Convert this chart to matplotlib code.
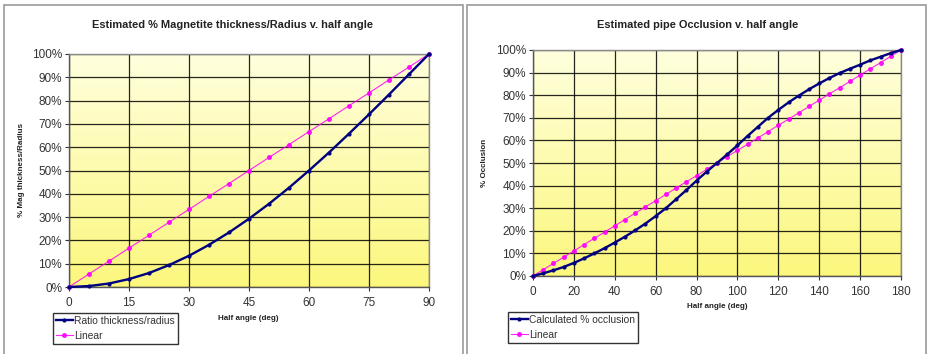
import numpy as np
import matplotlib
matplotlib.use("Agg")
import matplotlib.pyplot as plt
from matplotlib.patches import Rectangle
from matplotlib.ticker import FuncFormatter

plt.rcParams['font.family'] = ['Liberation Sans', 'DejaVu Sans']

# ---------------- data ----------------
angle_left = [0, 5, 10, 15, 20, 25, 30, 35, 40, 45, 50, 55, 60, 65, 70, 75, 80, 85, 90]
ratio_thickness = [0, 0.4, 1.5, 3.4, 6.0, 9.4, 13.4, 18.1, 23.4, 29.3, 35.7, 42.6,
                   50.0, 57.7, 65.8, 74.1, 82.6, 91.3, 100]
linear_left = [0, 5.6, 11.1, 16.7, 22.2, 27.8, 33.3, 38.9, 44.4, 50.0, 55.6, 61.1,
               66.7, 72.2, 77.8, 83.3, 88.9, 94.4, 100]

angle_right = [0, 5, 10, 15, 20, 25, 30, 35, 40, 45, 50, 55, 60, 65, 70, 75, 80, 85, 90,
               95, 100, 105, 110, 115, 120, 125, 130, 135, 140, 145, 150, 155, 160, 165,
               170, 175, 180]
occlusion = [0, 1.2, 2.5, 4.0, 5.8, 7.8, 10.0, 12.3, 14.8, 17.4, 20.2, 23.2, 26.5,
             30.0, 34.0, 38.0, 42.2, 46.2, 50.0, 53.8, 57.8, 62.0, 66.0, 70.0, 73.5,
             76.8, 79.8, 82.6, 85.2, 87.6, 89.8, 91.7, 93.5, 95.4, 97.0, 98.6, 100]
linear_right = [0, 2.8, 5.6, 8.3, 11.1, 13.9, 16.7, 19.4, 22.2, 25.0, 27.8, 30.6, 33.3,
                36.1, 38.9, 41.7, 44.4, 47.2, 50.0, 52.8, 55.6, 58.3, 61.1, 63.9, 66.7,
                69.4, 72.2, 75.0, 77.8, 80.6, 83.3, 86.1, 88.9, 91.7, 94.4, 97.2, 100]

xticks_left = [0, 15, 30, 45, 60, 75, 90]
xticks_right = [0, 20, 40, 60, 80, 100, 120, 140, 160, 180]
yticks = [0, 10, 20, 30, 40, 50, 60, 70, 80, 90, 100]

W, H = 929, 354
fig = plt.figure(figsize=(W / 100, H / 100), dpi=100)

def fx(px):
    return px / W

def fy(py):
    return 1 - py / H

# panel borders
for x0, x1 in [(4, 463), (467, 926)]:
    fig.patches.append(Rectangle((fx(x0), -0.02), fx(x1 - x0), fy(5) + 0.02,
                                 transform=fig.transFigure, fill=False,
                                 edgecolor='#9a9a9a', lw=1.2))

top_col = np.array([255, 255, 222]) / 255
bot_col = np.array([252, 247, 125]) / 255
grad = np.linspace(0, 1, 256)[:, None]
grad_img = top_col[None, None, :] * (1 - grad[:, :, None]) + bot_col[None, None, :] * grad[:, :, None]
grad_img = np.repeat(grad_img, 4, axis=1)


def make_ax(rect, xs, s1, s2, xmax, xt):
    ax = fig.add_axes(rect)
    ax.imshow(grad_img, extent=[0, xmax, 0, 100], aspect='auto', zorder=0,
              interpolation='bilinear')
    ax.set_xlim(0, xmax)
    ax.set_ylim(0, 100)
    ax.set_xticks(xt)
    ax.set_yticks(yticks)
    ax.yaxis.set_major_formatter(FuncFormatter(lambda v, p: f"{int(v)}%"))
    ax.grid(True, color='black', lw=0.9, alpha=0.85, zorder=1)
    ax.set_axisbelow(True)
    for sp in ax.spines.values():
        sp.set_color('#8a8a8a')
        sp.set_linewidth(1.0)
    ax.spines['left'].set_color('#555555')
    ax.spines['bottom'].set_color('#555555')
    ax.tick_params(axis='both', labelsize=8.5, colors='#333333', length=3,
                   width=0.8, labelcolor='#333333')
    ax.tick_params(axis='x', pad=4)
    ax.tick_params(axis='y', pad=2)
    l1, = ax.plot(xs, s1, color='#000080', lw=1.7, marker='o', ms=2.0,
                  zorder=4, clip_on=False)
    l2, = ax.plot(xs, s2, color='#FF00FF', lw=0.8, marker='o', ms=2.6,
                  zorder=3, clip_on=False, alpha=0.85)
    return ax, l1, l2


axL, a1, a2 = make_ax([fx(69), fy(287), fx(429 - 69), (287 - 54) / H],
                      angle_left, ratio_thickness, linear_left, 90, xticks_left)
axR, b1, b2 = make_ax([fx(533), fy(276), fx(901 - 533), (276 - 50) / H],
                      angle_right, occlusion, linear_right, 180, xticks_right)

fig.text(fx(233), fy(25), 'Estimated % Magnetite thickness/Radius v. half angle',
         ha='center', va='center', fontsize=7.9, fontweight='bold', color='#222222')
fig.text(fx(698), fy(25), 'Estimated pipe Occlusion v. half angle',
         ha='center', va='center', fontsize=7.9, fontweight='bold', color='#222222')

fig.text(fx(248), fy(319), 'Half angle (deg)', ha='center', va='center',
         fontsize=5.8, fontweight='bold', color='#222222')
fig.text(fx(717), fy(307), 'Half angle (deg)', ha='center', va='center',
         fontsize=5.8, fontweight='bold', color='#222222')
fig.text(fx(22), fy(170), '% Mag thickness/Radius', ha='center', va='center',
         rotation=90, fontsize=5.8, fontweight='bold', color='#222222')
fig.text(fx(485), fy(163), '% Occlusion', ha='center', va='center',
         rotation=90, fontsize=5.8, fontweight='bold', color='#222222')

leg_kw = dict(loc='upper left', fontsize=7.4, frameon=True, fancybox=False,
              handlelength=1.6, handletextpad=0.15, borderpad=0.3,
              labelspacing=0.45, borderaxespad=0)
legL = fig.legend([a1, a2], ['Ratio thickness/radius', 'Linear'],
                  bbox_to_anchor=(fx(53), fy(313)), **leg_kw)
legR = fig.legend([b1, b2], ['Calculated % occlusion', 'Linear'],
                  bbox_to_anchor=(fx(508), fy(312)), **leg_kw)
for lg in (legL, legR):
    fr = lg.get_frame()
    fr.set_edgecolor('#333333')
    fr.set_linewidth(1.0)
    fr.set_alpha(1)
    for t in lg.get_texts():
        t.set_color('#333333')

fig.savefig('out.png', dpi=100)
